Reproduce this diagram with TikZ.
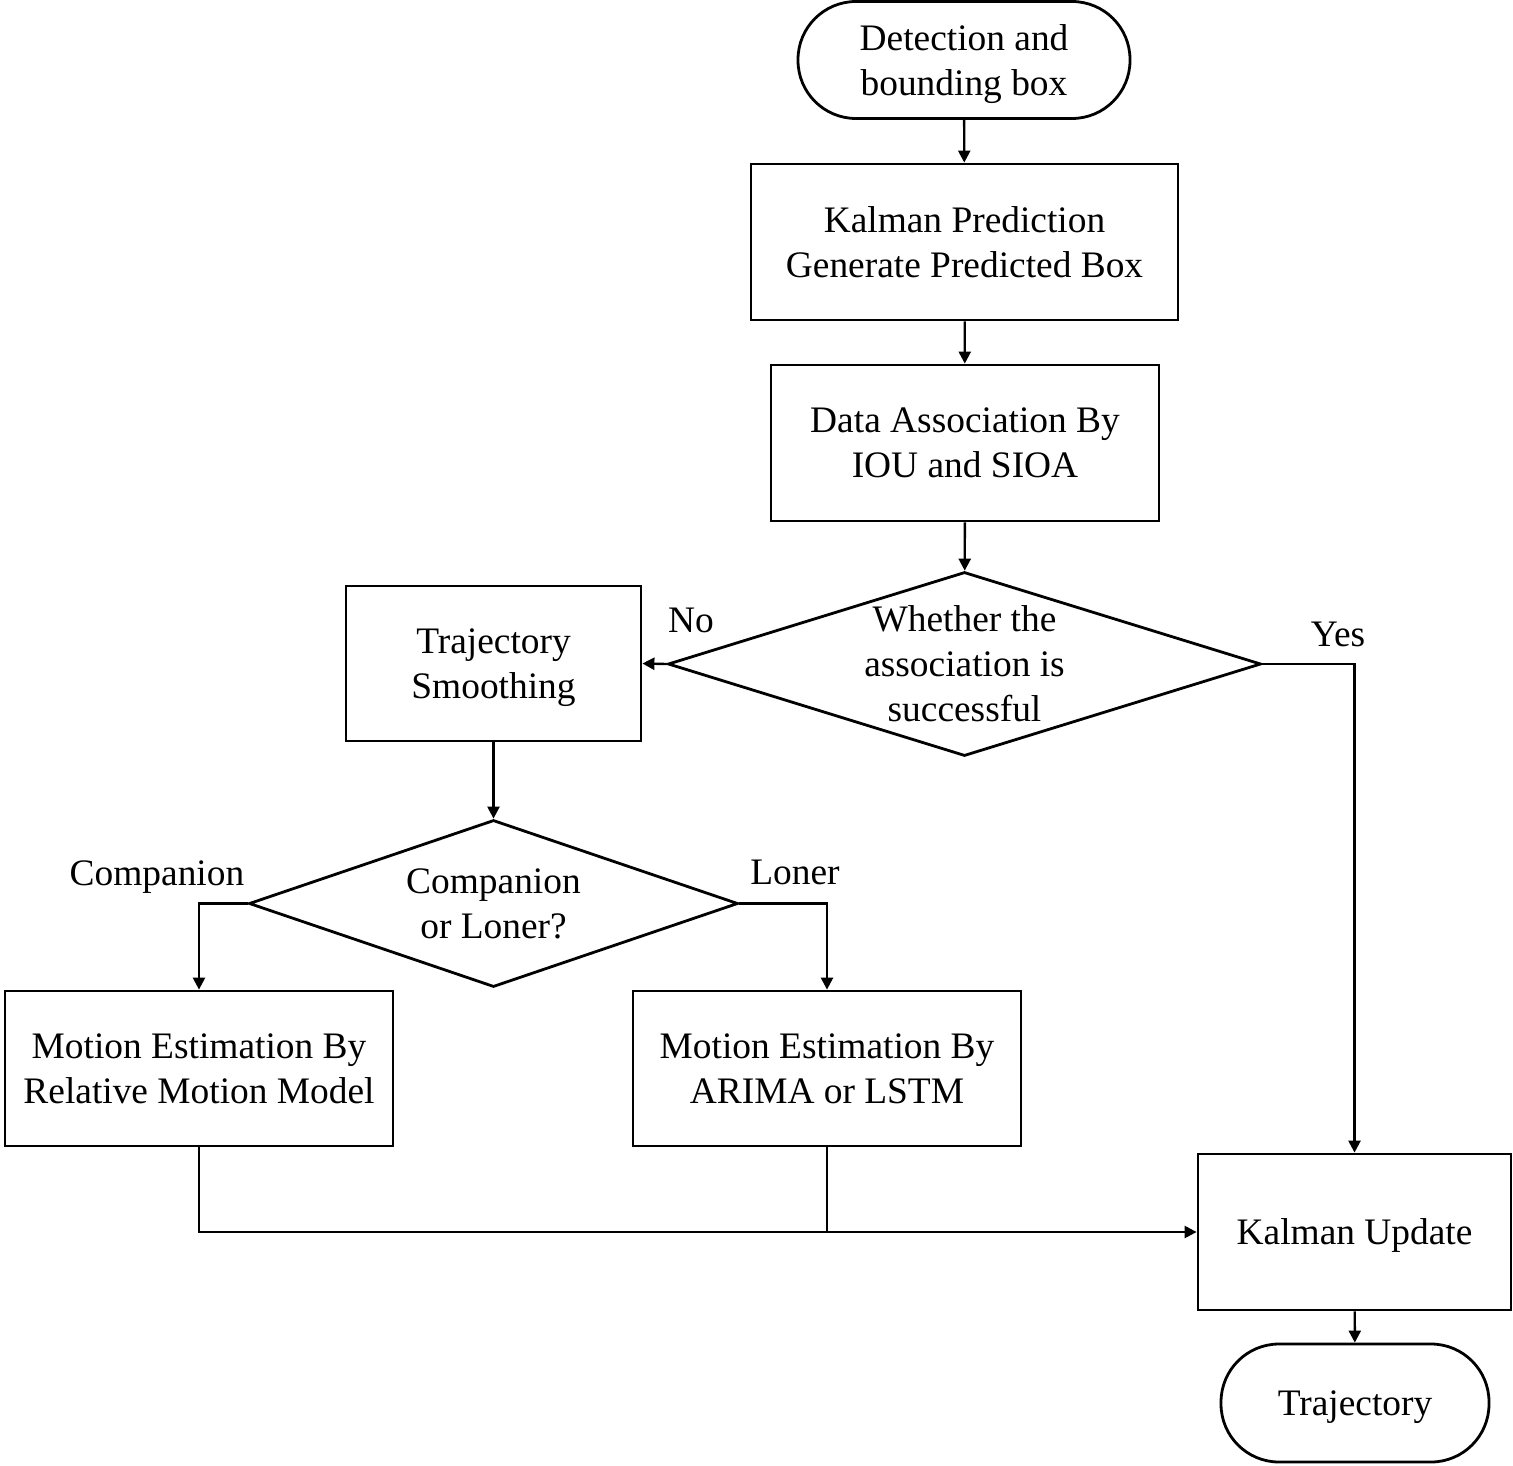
\documentclass[tikz,border=0pt]{standalone}
\usepackage{fontspec}
\setmainfont{Liberation Serif}
\usetikzlibrary{shapes.geometric,arrows.meta}
\newcommand{\nodepth}[1]{\raisebox{0pt}[\height][0pt]{#1}}
\begin{document}
\begin{tikzpicture}[x=0.5pt,y=-0.5pt,
  every node/.style={font=\fontsize{18.7pt}{22.5pt}\selectfont},
  box/.style={draw,line width=1.4pt,rectangle,inner sep=0pt,align=center},
  term/.style={draw,line width=1.4pt,rectangle,rounded corners=29pt,inner sep=0pt,align=center},
  dec/.style={draw,line width=1.4pt,diamond,inner sep=0pt},
  txt/.style={align=center,inner sep=0pt},
  conn/.style={line width=1.2pt,-{Triangle[length=6pt,width=6pt]}},
  plain/.style={line width=1.2pt}]
\useasboundingbox (0,0) rectangle (1513,1465);
\node[term,minimum width=166pt,minimum height=58.5pt] (start) at (964,60) {Detection and\\\nodepth{bounding box}};
\node[box,minimum width=213.5pt,minimum height=78pt] (kp) at (964.5,242) {Kalman Prediction\\Generate Predicted Box};
\node[box,minimum width=194pt,minimum height=78pt] (da) at (965,443) {Data Association By\\IOU and SIOA};
\node[dec,minimum width=296.5pt,minimum height=92pt] (d1) at (964.5,664) {};
\node[txt] (d1t) at (d1) {Whether the\\association is\\successful};
\node[box,minimum width=147.5pt,minimum height=77.5pt] (ts) at (493.5,663.5) {Trajectory\\\nodepth{Smoothing}};
\node[dec,minimum width=244.5pt,minimum height=83.5pt] (d2) at (493.5,903.5) {};
\node[txt] (d2t) at (d2) {Companion\\or Loner?};
\node[box,minimum width=194pt,minimum height=77.5pt] (ml) at (199,1068.5) {Motion Estimation By\\Relative Motion Model};
\node[box,minimum width=194pt,minimum height=77.5pt] (mr) at (827,1068.5) {Motion Estimation By\\ARIMA or LSTM};
\node[box,minimum width=156.5pt,minimum height=78pt] (ku) at (1354.5,1232) {\nodepth{Kalman Update}};
\node[term,minimum width=134pt,minimum height=59pt] (traj) at (1355,1403) {\nodepth{Trajectory}};
\node[txt] (no) at (691,620) {No};
\node[txt] (yes) at (1338,634) {Yes};
\node[txt] (comp) at (157,873) {\nodepth{Companion}};
\node[txt] (lon) at (795,872) {Loner};
\coordinate (j) at (827,1232);
\draw[conn] (start) -- (kp);
\draw[conn] (kp) -- (da);
\draw[conn] (da) -- (d1);
\draw[conn] (d1.west) -- (ts.east);
\draw[conn] (d1.east) -| (ku.north);
\draw[conn] (ts) -- (d2);
\draw[conn] (d2.west) -| (ml.north);
\draw[conn] (d2.east) -| (mr.north);
\draw[conn] (ml.south) |- (ku.west);
\draw[plain] (mr.south) -- (j);
\draw[conn] (ku) -- (traj);
\end{tikzpicture}
\end{document}
